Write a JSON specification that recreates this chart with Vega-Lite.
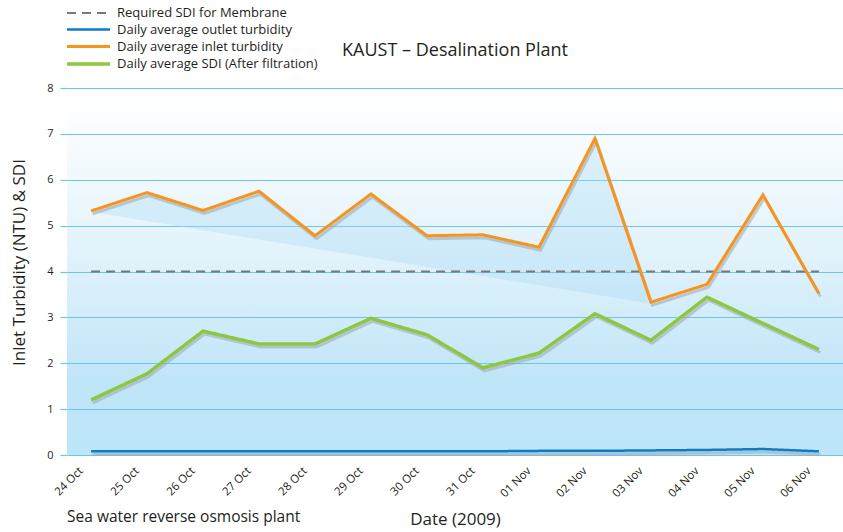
{
  "$schema": "https://vega.github.io/schema/vega-lite/v6.json",
  "width": 776,
  "height": 367,
  "autosize": "none",
  "padding": {"left": 67, "top": 88, "right": 0, "bottom": 77},
  "background": "white",
  "title": {
    "text": "KAUST – Desalination Plant",
    "anchor": "middle",
    "frame": "group",
    "baseline": "alphabetic",
    "offset": 0,
    "dy": 69,
    "font": "Open Sans",
    "fontSize": 18,
    "fontWeight": "normal",
    "color": "#231f20"
  },
  "config": {
    "view": {
      "stroke": null,
      "fill": {
        "gradient": "linear", "x1": 0, "y1": 0, "x2": 0, "y2": 1,
        "stops": [
          {"offset": 0, "color": "#ffffff"},
          {"offset": 0.03, "color": "#ffffff"},
          {"offset": 0.45, "color": "#e2f3fb"},
          {"offset": 0.8, "color": "#bfe5f8"},
          {"offset": 1, "color": "#bde5f8"}
        ]
      }
    },
    "font": "Open Sans"
  },
  "datasets": {
    "lines": [
      {"d": "24 Oct", "s": "Required SDI for Membrane", "v": 4},
      {"d": "25 Oct", "s": "Required SDI for Membrane", "v": 4},
      {"d": "26 Oct", "s": "Required SDI for Membrane", "v": 4},
      {"d": "27 Oct", "s": "Required SDI for Membrane", "v": 4},
      {"d": "28 Oct", "s": "Required SDI for Membrane", "v": 4},
      {"d": "29 Oct", "s": "Required SDI for Membrane", "v": 4},
      {"d": "30 Oct", "s": "Required SDI for Membrane", "v": 4},
      {"d": "31 Oct", "s": "Required SDI for Membrane", "v": 4},
      {"d": "01 Nov", "s": "Required SDI for Membrane", "v": 4},
      {"d": "02 Nov", "s": "Required SDI for Membrane", "v": 4},
      {"d": "03 Nov", "s": "Required SDI for Membrane", "v": 4},
      {"d": "04 Nov", "s": "Required SDI for Membrane", "v": 4},
      {"d": "05 Nov", "s": "Required SDI for Membrane", "v": 4},
      {"d": "06 Nov", "s": "Required SDI for Membrane", "v": 4},
      {"d": "24 Oct", "s": "Daily average outlet turbidity", "v": 0.08},
      {"d": "25 Oct", "s": "Daily average outlet turbidity", "v": 0.08},
      {"d": "26 Oct", "s": "Daily average outlet turbidity", "v": 0.08},
      {"d": "27 Oct", "s": "Daily average outlet turbidity", "v": 0.08},
      {"d": "28 Oct", "s": "Daily average outlet turbidity", "v": 0.08},
      {"d": "29 Oct", "s": "Daily average outlet turbidity", "v": 0.08},
      {"d": "30 Oct", "s": "Daily average outlet turbidity", "v": 0.08},
      {"d": "31 Oct", "s": "Daily average outlet turbidity", "v": 0.08},
      {"d": "01 Nov", "s": "Daily average outlet turbidity", "v": 0.09},
      {"d": "02 Nov", "s": "Daily average outlet turbidity", "v": 0.09},
      {"d": "03 Nov", "s": "Daily average outlet turbidity", "v": 0.1},
      {"d": "04 Nov", "s": "Daily average outlet turbidity", "v": 0.11},
      {"d": "05 Nov", "s": "Daily average outlet turbidity", "v": 0.13},
      {"d": "06 Nov", "s": "Daily average outlet turbidity", "v": 0.08},
      {"d": "24 Oct", "s": "Daily average inlet turbidity", "v": 5.32},
      {"d": "25 Oct", "s": "Daily average inlet turbidity", "v": 5.72},
      {"d": "26 Oct", "s": "Daily average inlet turbidity", "v": 5.33},
      {"d": "27 Oct", "s": "Daily average inlet turbidity", "v": 5.75},
      {"d": "28 Oct", "s": "Daily average inlet turbidity", "v": 4.78},
      {"d": "29 Oct", "s": "Daily average inlet turbidity", "v": 5.69},
      {"d": "30 Oct", "s": "Daily average inlet turbidity", "v": 4.78},
      {"d": "31 Oct", "s": "Daily average inlet turbidity", "v": 4.8},
      {"d": "01 Nov", "s": "Daily average inlet turbidity", "v": 4.53},
      {"d": "02 Nov", "s": "Daily average inlet turbidity", "v": 6.9},
      {"d": "03 Nov", "s": "Daily average inlet turbidity", "v": 3.33},
      {"d": "04 Nov", "s": "Daily average inlet turbidity", "v": 3.72},
      {"d": "05 Nov", "s": "Daily average inlet turbidity", "v": 5.67},
      {"d": "06 Nov", "s": "Daily average inlet turbidity", "v": 3.52},
      {"d": "24 Oct", "s": "Daily average SDI (After filtration)", "v": 1.2},
      {"d": "25 Oct", "s": "Daily average SDI (After filtration)", "v": 1.77},
      {"d": "26 Oct", "s": "Daily average SDI (After filtration)", "v": 2.7},
      {"d": "27 Oct", "s": "Daily average SDI (After filtration)", "v": 2.42},
      {"d": "28 Oct", "s": "Daily average SDI (After filtration)", "v": 2.42},
      {"d": "29 Oct", "s": "Daily average SDI (After filtration)", "v": 2.98},
      {"d": "30 Oct", "s": "Daily average SDI (After filtration)", "v": 2.62},
      {"d": "31 Oct", "s": "Daily average SDI (After filtration)", "v": 1.9},
      {"d": "01 Nov", "s": "Daily average SDI (After filtration)", "v": 2.22},
      {"d": "02 Nov", "s": "Daily average SDI (After filtration)", "v": 3.08},
      {"d": "03 Nov", "s": "Daily average SDI (After filtration)", "v": 2.5},
      {"d": "04 Nov", "s": "Daily average SDI (After filtration)", "v": 3.44},
      {"d": "05 Nov", "s": "Daily average SDI (After filtration)", "v": 2.87},
      {"d": "06 Nov", "s": "Daily average SDI (After filtration)", "v": 2.3}
    ],
    "shade": [
      {"d": "24 Oct", "top": 5.32, "base": 5.3},
      {"d": "25 Oct", "top": 5.72, "base": 5.1},
      {"d": "26 Oct", "top": 5.33, "base": 4.9},
      {"d": "27 Oct", "top": 5.75, "base": 4.7},
      {"d": "28 Oct", "top": 4.78, "base": 4.5},
      {"d": "29 Oct", "top": 5.69, "base": 4.3},
      {"d": "30 Oct", "top": 4.78, "base": 4.1},
      {"d": "31 Oct", "top": 4.8, "base": 3.9},
      {"d": "01 Nov", "top": 4.53, "base": 3.7},
      {"d": "02 Nov", "top": 6.9, "base": 3.5},
      {"d": "03 Nov", "top": 3.33, "base": 3.3}
    ]
  },
  "encoding": {
    "x": {
      "field": "d",
      "type": "ordinal",
      "sort": null,
      "scale": {"type": "point", "padding": 0.43,
        "domain": ["24 Oct","25 Oct","26 Oct","27 Oct","28 Oct","29 Oct","30 Oct","31 Oct","01 Nov","02 Nov","03 Nov","04 Nov","05 Nov","06 Nov"]},
      "axis": {
        "title": "Date (2009)",
        "titleFont": "Open Sans",
        "titleFontSize": 17,
        "titleFontWeight": "normal",
        "titleColor": "#231f20",
        "titlePadding": 12,
        "labelAngle": -45,
        "labelAlign": "right",
        "labelBaseline": "middle",
        "labelFontSize": 11.5,
        "labelColor": "#231f20",
        "labelPadding": 14,
        "labelOffset": -10,
        "ticks": false,
        "domain": false,
        "grid": false
      }
    }
  },
  "layer": [
    {
      "data": {"name": "shade"},
      "mark": {"type": "area", "fill": "#a9dbf5", "opacity": 0.35, "interpolate": "linear"},
      "encoding": {
        "y": {"field": "top", "type": "quantitative", "scale": {"domain": [0, 8]},
          "axis": {
            "title": "Inlet Turbidity (NTU) & SDI",
            "titleFont": "Open Sans",
            "titleFontSize": 17,
            "titleFontWeight": "normal",
            "titleColor": "#231f20",
            "titlePadding": 18,
            "titleY": 174,
            "values": [0,1,2,3,4,5,6,7,8],
            "grid": true,
            "gridColor": "#6ec4ec",
            "gridWidth": 1.2,
            "gridOpacity": 1,
            "ticks": true,
            "tickSize": 7,
            "tickColor": "#6ec4ec",
            "tickWidth": 1.2,
            "domain": false,
            "labelFontSize": 11,
            "labelColor": "#231f20",
            "labelPadding": 7
          }},
        "y2": {"field": "base"}
      }
    },
    {
      "data": {"name": "lines"},
      "transform": [{"filter": "datum.s != 'Required SDI for Membrane'"}],
      "mark": {"type": "line", "stroke": "#9aa6b0", "opacity": 0.55, "strokeWidth": 3, "xOffset": 1.5, "yOffset": 3},
      "encoding": {
        "y": {"field": "v", "type": "quantitative"},
        "detail": {"field": "s"}
      }
    },
    {
      "data": {"name": "lines"},
      "mark": {"type": "line"},
      "encoding": {
        "y": {"field": "v", "type": "quantitative"},
        "color": {
          "field": "s", "type": "nominal",
          "scale": {
            "domain": ["Required SDI for Membrane","Daily average outlet turbidity","Daily average inlet turbidity","Daily average SDI (After filtration)"],
            "range": ["#77787b","#0b7cc6","#f7941d","#8dc63f"]
          },
          "legend": {
            "title": null,
            "orient": "none",
            "legendX": 12.5,
            "legendY": -83,
            "padding": 0,
            "symbolType": "M-3.07,0H3.07",
            "symbolSize": 196,
            "symbolStrokeWidth": 3,
            "symbolFillColor": "transparent",
            "labelFont": "Open Sans",
            "labelFontSize": 13,
            "labelColor": "#231f20",
            "labelOffset": 19.5,
            "labelLimit": 400,
            "rowPadding": 1
          }
        },
        "strokeDash": {
          "field": "s", "type": "nominal",
          "scale": {
            "domain": ["Required SDI for Membrane","Daily average outlet turbidity","Daily average inlet turbidity","Daily average SDI (After filtration)"],
            "range": [[9, 6],[1, 0],[1, 0],[1, 0]]
          },
          "legend": {
            "title": null,
            "orient": "none",
            "legendX": 12.5,
            "legendY": -83,
            "padding": 0,
            "symbolType": "M-3.07,0H3.07",
            "symbolSize": 196,
            "symbolStrokeWidth": 3,
            "symbolFillColor": "transparent",
            "labelFont": "Open Sans",
            "labelFontSize": 13,
            "labelColor": "#231f20",
            "labelOffset": 19.5,
            "labelLimit": 400,
            "rowPadding": 1
          }
        },
        "strokeWidth": {
          "field": "s", "type": "nominal",
          "scale": {
            "domain": ["Required SDI for Membrane","Daily average outlet turbidity","Daily average inlet turbidity","Daily average SDI (After filtration)"],
            "range": [2, 3.5, 2.6, 2.6]
          },
          "legend": null
        }
      }
    },
    {
      "data": {"values": [{"t": "Sea water reverse osmosis plant"}]},
      "mark": {"type": "text", "align": "left", "baseline": "alphabetic", "dx": -24, "dy": 67, "font": "Open Sans", "fontSize": 15.5, "color": "#231f20"},
      "encoding": {
        "x": {"datum": "24 Oct"},
        "y": {"datum": 0},
        "text": {"field": "t"}
      }
    }
  ]
}
